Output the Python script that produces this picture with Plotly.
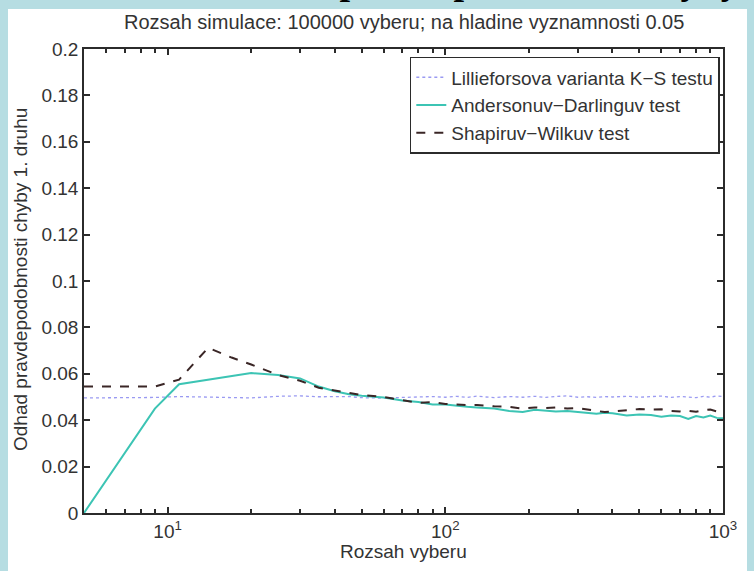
import plotly.graph_objects as go

# ---- data ----
sample_sizes = [5, 7, 9, 11, 14, 17, 20, 25, 30, 35, 40, 45, 50, 60, 70, 80, 90, 100,
                110, 120, 130, 140, 150, 170, 190, 210, 230, 250, 275, 300, 325, 350,
                375, 400, 450, 500, 550, 600, 650, 700, 750, 800, 850, 900, 950, 1000]

lilliefors = [0.0496, 0.0497, 0.0498, 0.0502, 0.0499, 0.0497, 0.0496, 0.0503, 0.0505, 0.0501,
              0.0500, 0.0502, 0.0497, 0.0495, 0.0498, 0.0500, 0.0502, 0.0499, 0.0503, 0.0498,
              0.0504, 0.0500, 0.0497, 0.0502, 0.0499, 0.0503, 0.0498, 0.0502, 0.0505, 0.0499,
              0.0501, 0.0498, 0.0502, 0.0500, 0.0503, 0.0499, 0.0501, 0.0504, 0.0498, 0.0502,
              0.0500, 0.0497, 0.0503, 0.0499, 0.0505, 0.0502]

anderson = [0.0000, 0.0260, 0.0450, 0.0555, 0.0575, 0.0590, 0.0603, 0.0595, 0.0580, 0.0545,
            0.0525, 0.0512, 0.0505, 0.0498, 0.0485, 0.0478, 0.0468, 0.0468, 0.0462, 0.0458,
            0.0455, 0.0452, 0.0450, 0.0440, 0.0435, 0.0445, 0.0440, 0.0438, 0.0440, 0.0436,
            0.0430, 0.0428, 0.0432, 0.0430, 0.0420, 0.0425, 0.0422, 0.0415, 0.0420, 0.0418,
            0.0405, 0.0418, 0.0412, 0.0420, 0.0410, 0.0408]

shapiro = [0.0545, 0.0545, 0.0545, 0.0575, 0.0712, 0.0670, 0.0640, 0.0595, 0.0570, 0.0540,
           0.0528, 0.0515, 0.0508, 0.0500, 0.0485, 0.0475, 0.0478, 0.0470, 0.0468, 0.0465,
           0.0466, 0.0462, 0.0460, 0.0458, 0.0450, 0.0455, 0.0452, 0.0455, 0.0450, 0.0452,
           0.0445, 0.0440, 0.0435, 0.0438, 0.0442, 0.0448, 0.0446, 0.0447, 0.0440, 0.0438,
           0.0440, 0.0436, 0.0443, 0.0446, 0.0438, 0.0442]

series_names = ["Lillieforsova varianta K\u2212S testu",
                "Andersonuv\u2212Darlinguv test",
                "Shapiruv\u2212Wilkuv test"]

y_ticks = [0, 0.02, 0.04, 0.06, 0.08, 0.1, 0.12, 0.14, 0.16, 0.18, 0.2]
y_tick_labels = ["0", "0.02", "0.04", "0.06", "0.08", "0.1", "0.12", "0.14", "0.16", "0.18", "0.2"]
x_ticks = [10, 100, 1000]
x_tick_labels = ["10<sup>1</sup>", "10<sup>2</sup>", "10<sup>3</sup>"]
x_minor = [6, 7, 8, 9, 20, 30, 40, 50, 60, 70, 80, 90, 200, 300, 400, 500, 600, 700, 800, 900]

title_text = "Odhad pravdepodobnosti chyby 1. druhu"
subtitle_text = "Rozsah simulace: 100000 vyberu; na hladine vyznamnosti 0.05"
x_title = "Rozsah vyberu"
y_title = "Odhad pravdepodobnosti chyby 1. druhu"

FONT = "Liberation Sans, Arial, sans-serif"
AX = "#2b2b2b"
TXT = "#333333"

fig = go.Figure()
fig.add_trace(go.Scatter(x=sample_sizes, y=lilliefors, mode="lines", name=series_names[0],
                         line=dict(color="#9a9af2", width=1.3, dash="dot")))
fig.add_trace(go.Scatter(x=sample_sizes, y=anderson, mode="lines", name=series_names[1],
                         line=dict(color="#3cc4b4", width=2)))
fig.add_trace(go.Scatter(x=sample_sizes, y=shapiro, mode="lines", name=series_names[2],
                         line=dict(color="#3a2626", width=2, dash="dash")))

W, H = 754, 571
L, R, T, B = 84, 31, 49, 58
pw, ph = W - L - R, H - T - B

def px(x):
    return (x - L) / pw

def py(y):
    return (H - B - y) / ph

fig.update_layout(
    width=W, height=H,
    margin=dict(l=L, r=R, t=T, b=B, autoexpand=False),
    paper_bgcolor="#b6dde2",
    plot_bgcolor="white",
    font=dict(family=FONT, size=19, color=TXT),
    showlegend=True,
    legend=dict(x=0.995, y=0.983, xanchor="right", yanchor="top",
                bgcolor="white", bordercolor=AX, borderwidth=1.5,
                font=dict(family=FONT, size=19, color=TXT),
                tracegroupgap=0, itemwidth=30),
    shapes=[dict(type="rect", xref="paper", yref="paper",
                 x0=px(8), x1=px(747), y0=py(575), y1=py(9),
                 fillcolor="white", line=dict(width=0), layer="below")],
    annotations=[
        dict(text="<b>" + title_text + "</b>", xref="paper", yref="paper",
             x=px(216), y=py(4), xanchor="left", yanchor="bottom", showarrow=False,
             font=dict(family="Liberation Serif, Times New Roman, serif", size=38, color="black")),
        dict(text=subtitle_text, xref="paper", yref="paper",
             x=0.5, y=py(22), xanchor="center", yanchor="middle", showarrow=False,
             font=dict(family=FONT, size=20, color=TXT)),
        dict(text=y_title, xref="paper", yref="paper", textangle=-90,
             x=px(20), y=py(280), xanchor="center", yanchor="middle", showarrow=False,
             font=dict(family=FONT, size=19, color=TXT)),
        dict(text=x_title, xref="paper", yref="paper",
             x=0.5, y=py(551), xanchor="center", yanchor="middle", showarrow=False,
             font=dict(family=FONT, size=19, color=TXT)),
    ],
    xaxis=dict(type="log", range=[0.69897, 3], showgrid=False, zeroline=False,
               showline=True, linecolor=AX, linewidth=1.5, mirror="ticks",
               ticks="inside", ticklen=6, tickcolor=AX, tickwidth=1.5,
               tickmode="array", tickvals=x_ticks, ticktext=x_tick_labels,
               tickfont=dict(size=19),
               minor=dict(tickmode="array", tickvals=x_minor, ticks="inside",
                          ticklen=4, tickcolor=AX, tickwidth=1.5)),
    yaxis=dict(range=[0, 0.2], showgrid=False, zeroline=False,
               showline=True, linecolor=AX, linewidth=1.5, mirror="ticks",
               ticks="inside", ticklen=6, tickcolor=AX, tickwidth=1.5,
               tickmode="array", tickvals=y_ticks, ticktext=y_tick_labels,
               tickfont=dict(size=19)),
)

fig.write_html("out.html", config={"displayModeBar": False},
               post_script="document.body.style.margin='0px';")
